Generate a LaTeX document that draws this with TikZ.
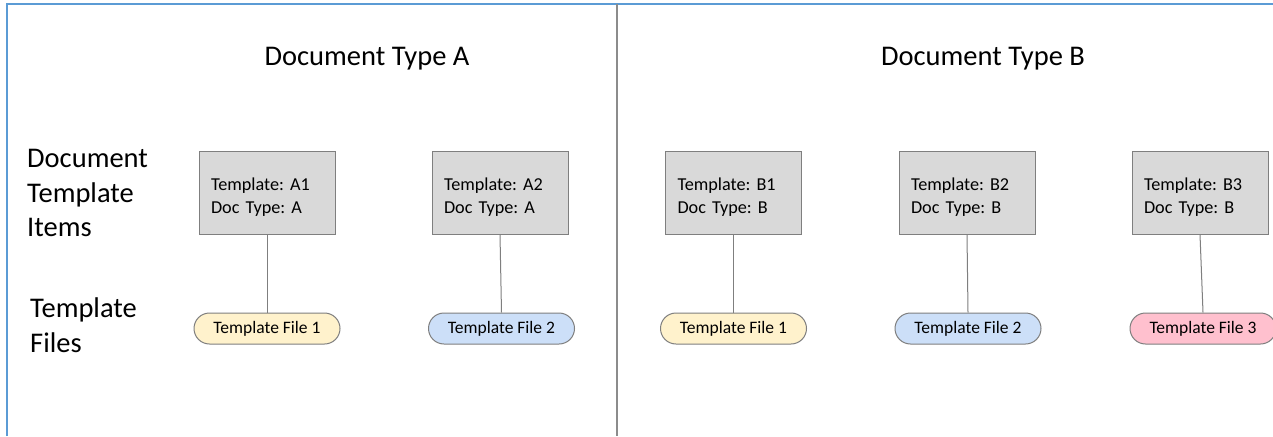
\documentclass[tikz,border=0pt]{standalone}
\usepackage{fontspec}
\setmainfont{Carlito}
\frenchspacing
\usetikzlibrary{shapes.misc}
\definecolor{frameblue}{HTML}{5B9BD5}
\definecolor{divgrey}{HTML}{8C8C8C}
\definecolor{boxfill}{HTML}{D9D9D9}
\definecolor{boxdraw}{HTML}{7F7F7F}
\definecolor{pillyellow}{HTML}{FFF2CC}
\definecolor{pillblue}{HTML}{CCDFF8}
\definecolor{pillpink}{HTML}{FFC0CE}
\newcommand{\toppad}{\rule{0pt}{21pt}}
\tikzset{
  itembox/.style={draw=boxdraw, fill=boxfill, line width=1pt, rectangle,
    minimum width=136pt, minimum height=83pt, text width=112pt, inner xsep=12pt,
    align=left, font=\fontsize{18.2}{23}\selectfont},
  pill/.style={draw=boxdraw, line width=1pt, rounded rectangle,
    minimum width=146pt, minimum height=31pt, inner sep=0pt,
    font=\fontsize{17.5}{20}\selectfont},
  link/.style={draw=boxdraw, line width=1pt},
  title/.style={font=\fontsize{28.5}{32}\selectfont},
  sidelabel/.style={font=\fontsize{28.5}{34.5}\selectfont, align=left, anchor=west, inner sep=0pt}
}
\begin{document}
\begin{tikzpicture}[x=1pt,y=-1pt]
\useasboundingbox (0,0) rectangle (1273,436);
\fill[white] (0,0) rectangle (1273,436);
% frame
\coordinate (ftl) at (7,4);
\coordinate (ftr) at (1273,4);
\coordinate (fbl) at (7,436);
\draw[frameblue, line width=2pt] (fbl) -- (ftl) -- (ftr);
% divider
\coordinate (dtop) at (617,4);
\coordinate (dbot) at (617,436);
\draw[divgrey, line width=1.5pt] (dtop) -- (dbot);
% titles
\node[title] (ta) at (367,59) {Document Type A};
\node[title] (tb) at (983,59) {Document Type B};
% side labels
\node[sidelabel] (items) at (27,193) {Document\\Template\\Items};
\node[sidelabel] (files) at (30,325) {Template\\Files};
% boxes
\node[itembox] (a1) at (267,192.5) {\toppad Template: A1\\Doc Type: A};
\node[itembox] (a2) at (500,192.5) {\toppad Template: A2\\Doc Type: A};
\node[itembox] (b1) at (733.5,192.5) {\toppad Template: B1\\Doc Type: B};
\node[itembox] (b2) at (967,192.5) {\toppad Template: B2\\Doc Type: B};
\node[itembox] (b3) at (1200,192.5) {\toppad Template: B3\\Doc Type: B};
% pills
\node[pill, fill=pillyellow] (fa1) at (267,328.5) {Template File 1};
\node[pill, fill=pillblue] (fa2) at (501.5,328.5) {Template File 2};
\node[pill, fill=pillyellow] (fb1) at (733.5,328.5) {Template File 1};
\node[pill, fill=pillblue] (fb2) at (968,328.5) {Template File 2};
\node[pill, fill=pillpink] (fb3) at (1203,328.5) {Template File 3};
% links
\draw[link] (a1.south) -- (fa1.north);
\draw[link] (a2.south) -- (fa2.north);
\draw[link] (b1.south) -- (fb1.north);
\draw[link] (b2.south) -- (fb2.north);
\draw[link] (b3.south) -- (fb3.north);
\end{tikzpicture}
\end{document}
